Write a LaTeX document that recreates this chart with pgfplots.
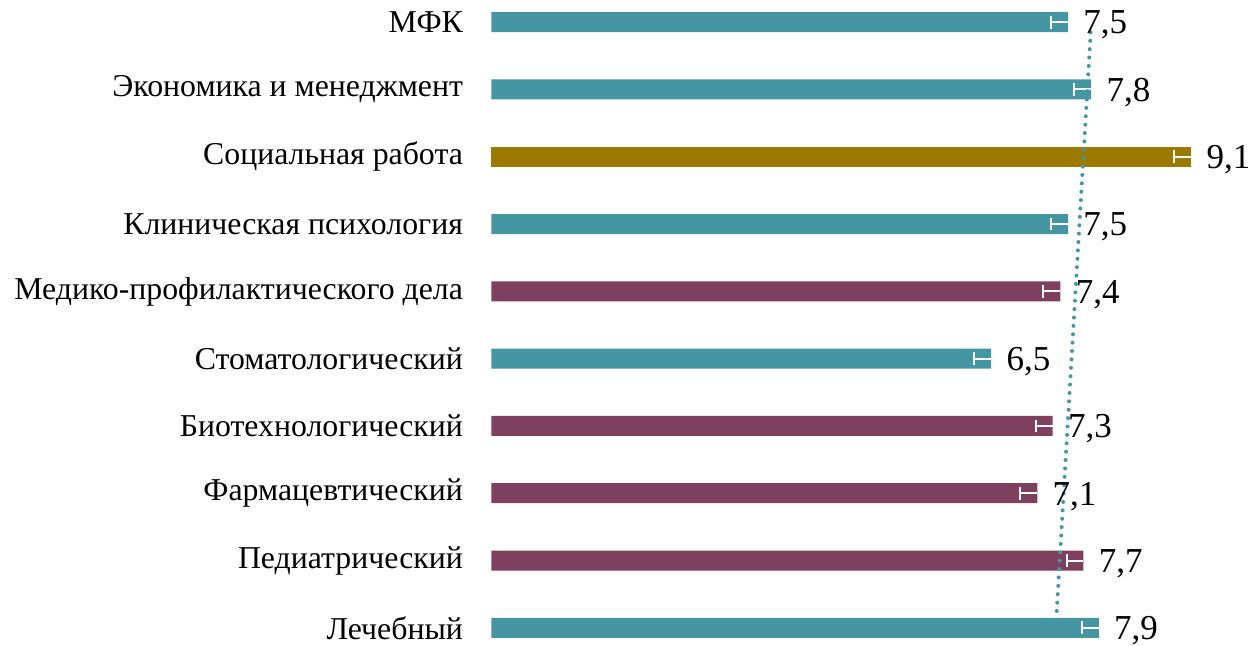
\documentclass[border=0pt]{standalone}
\usepackage{pgfplots}
\pgfplotsset{compat=1.18}
\usepackage{fontspec}
\setmainfont{Liberation Serif}
\definecolor{cteal}{HTML}{4596A3}
\definecolor{cmaroon}{HTML}{7E405E}
\definecolor{cgold}{HTML}{9C7A00}
\begin{document}
\begin{tikzpicture}
\useasboundingbox (-245.65pt,0pt) rectangle (378.35pt,323pt);
\begin{axis}[
  at={(0pt,0pt)}, anchor=south west,
  scale only axis,
  width=378.35pt, height=323pt,
  xmin=0, xmax=9.84,
  ymin=-0.27, ymax=9.33,
  bar width=10pt,
  axis line style={draw=none},
  major tick length=0pt,
  xtick=\empty,
  ytick={0,...,9},
  yticklabels={Лечебный,Педиатрический,Фармацевтический,Биотехнологический,Стоматологический,Медико-профилактического дела,Клиническая психология,Социальная работа,Экономика и менеджмент,МФК},
  yticklabel style={font=\fontsize{15.9}{18}\selectfont, anchor=east, inner sep=0pt, xshift=-14pt, text=black},
  bars/.style={xbar, bar shift=0pt, draw=none, nodes near coords,
    every node near coord/.append style={font=\fontsize{17.5}{20}\selectfont, anchor=west, inner sep=0pt, xshift=7.5pt, yshift=-1.5pt, text=black,
      /pgf/number format/.cd, use comma, fixed, fixed zerofill, precision=1, assume math mode=true},
    error bars/x dir=minus, error bars/x explicit,
    error bars/error bar style={white, line width=1pt},
    error bars/error mark options={white, line width=1pt, mark size=3.2pt, rotate=90}},
  clip=false,
]
\addplot[bars, fill=cteal] coordinates {
  (7.9,0) +- (0.22,0)
  (6.5,4) +- (0.22,0)
  (7.5,6) +- (0.22,0)
  (7.8,8) +- (0.22,0)
  (7.5,9) +- (0.22,0)
};
\addplot[bars, fill=cmaroon] coordinates {
  (7.7,1) +- (0.22,0)
  (7.1,2) +- (0.22,0)
  (7.3,3) +- (0.22,0)
  (7.4,5) +- (0.22,0)
};
\addplot[bars, fill=cgold] coordinates {
  (9.1,7) +- (0.22,0)
};
\addplot[sharp plot, cteal, line width=2pt, line cap=round, dash pattern=on 0pt off 4.2pt, mark=none] coordinates {
  (7.353,0.25) (7.80,8.955)
};
\end{axis}
\end{tikzpicture}
\end{document}
